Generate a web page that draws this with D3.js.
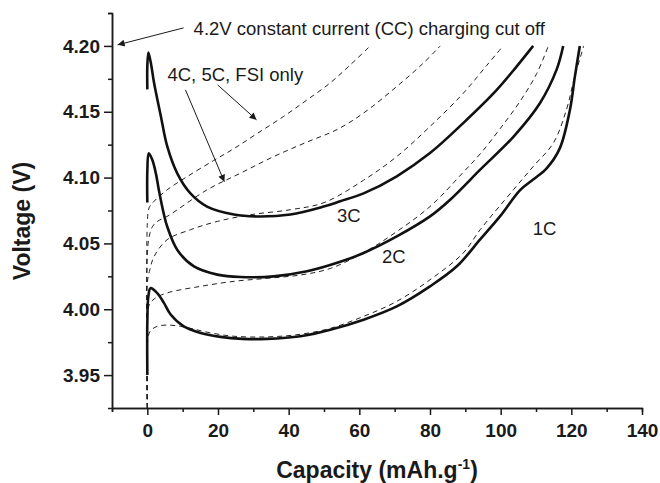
<!DOCTYPE html>
<html lang="en">

<head>
    <meta charset="utf-8">
    <script src="https://d3js.org/d3.v7.min.js"></script>
    <style>
        body {
            margin: 0;
            background: #fff;
        }

        text {
            font-family: Arial, "Liberation Sans", sans-serif;
            fill: #1a1a1a;
        }

        .axis path,
        .axis line {
            stroke: #1a1a1a;
            stroke-width: 1.5px;
        }

        .axis text {
            font-size: 19px;
            font-weight: bold;
        }

        .solid {
            fill: none;
            stroke: #111;
            stroke-width: 2.6px;
        }

        .dashed {
            fill: none;
            stroke: #222;
            stroke-width: 1px;
            stroke-dasharray: 5, 4;
        }

        .note {
            font-size: 18.5px;
        }

        .title {
            font-size: 23px;
            font-weight: bold;
        }
    </style>
</head>

<body>
    <svg width="660" height="483"></svg>

    <script>
        // measured charge curves: [capacity mAh/g, voltage V]
        var solid1C = [[0, 3.95], [0, 3.99], [0.3, 4.01], [0.9, 4.016], [2.8, 4.0123], [4.7, 4.0048], [6.6, 3.996],
            [10.3, 3.987], [15.1, 3.982], [20.7, 3.979], [27, 3.9775], [33.9, 3.9775], [43.3, 3.9795], [51.8, 3.9845],
            [61.2, 3.9921], [70.6, 4.0022], [80, 4.0174], [87.6, 4.0326], [94.2, 4.053], [99.8, 4.0705],
            [105.5, 4.0905], [109.2, 4.0985], [113, 4.107], [116.7, 4.122], [119.6, 4.1514], [121, 4.1767],
            [122.4, 4.2]];
        var solid2C = [[0, 4.081], [0, 4.105], [0.4, 4.1185], [1.4, 4.1135], [2.4, 4.1034], [3.3, 4.09], [4.7, 4.072],
            [5.6, 4.063], [8.5, 4.045], [13.2, 4.0325], [19.8, 4.0263], [26.4, 4.0245], [35.8, 4.025],
            [45.2, 4.0288], [54.6, 4.036], [61.2, 4.0427], [70.6, 4.0553], [80, 4.0705], [85.7, 4.0832],
            [94.2, 4.106], [103.6, 4.131], [111.1, 4.1565], [115.8, 4.1818], [117.7, 4.2]];
        var solid3C = [[0, 4.167], [0, 4.185], [0.3, 4.195], [1.0, 4.187], [1.9, 4.172], [3.8, 4.147], [5.6, 4.124],
            [8.5, 4.103], [12.2, 4.088], [16.9, 4.078], [24.5, 4.072], [31.1, 4.0705], [40.5, 4.072],
            [49.9, 4.078], [54.6, 4.082], [61.2, 4.088], [70.6, 4.101], [80, 4.1186], [89.4, 4.1414],
            [98.9, 4.1666], [104.5, 4.1843], [109.2, 4.2]];

        // simulated curves (dashed)
        var dash1C = [[0, 3.925], [0, 3.97], [0.3, 3.98], [1, 3.984], [2.8, 3.987], [5.6, 3.988], [9.4, 3.987],
            [13, 3.985], [18, 3.982], [24.5, 3.9795], [33.9, 3.979], [43.3, 3.981], [51.8, 3.9855],
            [61.2, 3.9946], [70.6, 4.006], [80, 4.0224], [89.4, 4.0427], [94.2, 4.0604], [103.6, 4.0907],
            [109.2, 4.1084], [114.9, 4.1262], [118.6, 4.1514], [120.8, 4.175], [123.5, 4.2]];
        var dash2C = [[0, 3.925], [0, 3.99], [0.5, 4.003], [2, 4.008], [5.6, 4.0124], [15.1, 4.0174], [24.5, 4.0212],
            [33.9, 4.0235], [43.3, 4.026], [51.8, 4.031], [61.2, 4.043], [68.7, 4.0555], [80, 4.078],
            [89.4, 4.104], [94.2, 4.118], [99.8, 4.137], [105.5, 4.158], [110.2, 4.179], [113.5, 4.2]];
        var dash3C = [[0, 3.925], [0, 4.02], [0.7, 4.03], [1.9, 4.04], [5.6, 4.0528], [12.2, 4.0604], [19.8, 4.0667],
            [29.2, 4.0718], [40.5, 4.0756], [50, 4.081], [61.2, 4.098], [70.6, 4.116], [80, 4.1388],
            [89.4, 4.164], [96, 4.185], [100.7, 4.2]];
        var dash4C = [[0, 3.925], [0, 4.04], [0.5, 4.055], [1.5, 4.063], [3, 4.067], [5.6, 4.0705], [16.9, 4.0907],
            [26.4, 4.1034], [35.8, 4.116], [45.2, 4.127], [53.7, 4.1365], [61.2, 4.149], [70.6, 4.1692],
            [78.1, 4.1869], [82.9, 4.2]];
        var dash5C = [[0, 3.925], [0, 4.065], [0.5, 4.077], [1.9, 4.082], [5.6, 4.0907], [11.3, 4.1008],
            [18.8, 4.113], [24.5, 4.122], [31.1, 4.1335], [38.6, 4.1465], [45.2, 4.159], [51.8, 4.172],
            [57.4, 4.1855], [63.1, 4.2]];

        var solidSeries = [solid1C, solid2C, solid3C];
        var dashSeries = [dash1C, dash2C, dash3C, dash4C, dash5C];

        // axis ticks
        var xTicks = [0, 20, 40, 60, 80, 100, 120, 140];
        var xMinor = [-10, 10, 30, 50, 70, 90, 110, 130];
        var yTicks = [3.95, 4.00, 4.05, 4.10, 4.15, 4.20];
        var yMinor = [3.975, 4.025, 4.075, 4.125, 4.175, 4.225];

        var svg = d3.select("svg"),
            margin = {
                top: 13,
                right: 18,
                bottom: 75,
                left: 112
            },
            width = +svg.attr("width") - margin.left - margin.right,
            height = +svg.attr("height") - margin.top - margin.bottom;

        var x = d3.scaleLinear().domain([-10, 140]).range([0, width]);
        var y = d3.scaleLinear().domain([3.925, 4.225]).range([height, 0]);

        var g = svg.append("g")
            .attr("transform", "translate(" + margin.left + "," + margin.top + ")");

        // arrow head
        svg.append("defs").append("marker")
            .attr("id", "head")
            .attr("viewBox", "0 0 10 10")
            .attr("refX", 10)
            .attr("refY", 5)
            .attr("markerWidth", 11)
            .attr("markerHeight", 7)
            .attr("markerUnits", "userSpaceOnUse")
            .attr("orient", "auto")
            .append("path")
            .attr("d", "M0,0L10,5L0,10z")
            .attr("fill", "#1a1a1a");

        //minor ticks first, then the labelled ones
        g.append("g")
            .attr("class", "axis")
            .attr("transform", "translate(0," + height + ")")
            .call(d3.axisBottom(x).tickValues(xMinor).tickSize(4).tickFormat(""));
        g.append("g")
            .attr("class", "axis")
            .attr("transform", "translate(0," + height + ")")
            .call(d3.axisBottom(x).tickValues(xTicks).tickSizeInner(7).tickSizeOuter(0).tickPadding(9)
                .tickFormat(d3.format("d")));

        g.append("g")
            .attr("class", "axis")
            .call(d3.axisLeft(y).tickValues(yMinor).tickSize(4).tickFormat(""));
        g.append("g")
            .attr("class", "axis")
            .call(d3.axisLeft(y).tickValues(yTicks).tickSizeInner(8).tickSizeOuter(0).tickPadding(4)
                .tickFormat(d3.format(".2f")));

        var line = d3.line()
            .x(function (d) {
                return x(d[0]);
            })
            .y(function (d) {
                return y(d[1]);
            })
            .curve(d3.curveCatmullRom.alpha(0.5));

        g.selectAll(".dashed")
            .data(dashSeries)
            .enter().append("path")
            .attr("class", "dashed")
            .attr("d", line);

        g.selectAll(".solid")
            .data(solidSeries)
            .enter().append("path")
            .attr("class", "solid")
            .attr("d", line);

        // rate labels
        var rateLabels = [["1C", 109.1, 4.0566], ["2C", 66.4, 4.0354], ["3C", 53.7, 4.0665]];
        g.selectAll(".rate")
            .data(rateLabels)
            .enter().append("text")
            .attr("class", "note rate")
            .attr("x", function (d) {
                return x(d[1]);
            })
            .attr("y", function (d) {
                return y(d[2]);
            })
            .text(function (d) {
                return d[0];
            });

        // annotations
        g.append("text")
            .attr("class", "note")
            .attr("x", x(13.1))
            .attr("y", y(4.2083))
            .text("4.2V constant current (CC) charging cut off");
        g.append("text")
            .attr("class", "note")
            .attr("x", x(5.7))
            .attr("y", y(4.1734))
            .text("4C, 5C, FSI only");

        var arrows = [
            [10.25, 4.2137, -8.4, 4.2008],
            [10.8, 4.1666, 21.8, 4.0968],
            [19.9, 4.1704, 30.9, 4.1439]
        ];
        g.selectAll(".arrow")
            .data(arrows)
            .enter().append("line")
            .attr("class", "arrow")
            .attr("x1", function (d) { return x(d[0]); })
            .attr("y1", function (d) { return y(d[1]); })
            .attr("x2", function (d) { return x(d[2]); })
            .attr("y2", function (d) { return y(d[3]); })
            .attr("stroke", "#1a1a1a")
            .attr("stroke-width", 1)
            .attr("marker-end", "url(#head)");

        // axis titles
        svg.append("text")
            .attr("class", "title")
            .attr("transform", "translate(30," + (margin.top + y(4.067)) + ") rotate(-90)")
            .attr("text-anchor", "middle")
            .text("Voltage (V)");

        var xt = svg.append("text")
            .attr("class", "title")
            .attr("x", margin.left + x(65))
            .attr("y", 478)
            .attr("text-anchor", "middle");
        xt.append("tspan").text("Capacity (mAh.g");
        xt.append("tspan").attr("dy", -9).style("font-size", "14px").text("-1");
        xt.append("tspan").attr("dy", 9).text(")");
    </script>
</body>

</html>
